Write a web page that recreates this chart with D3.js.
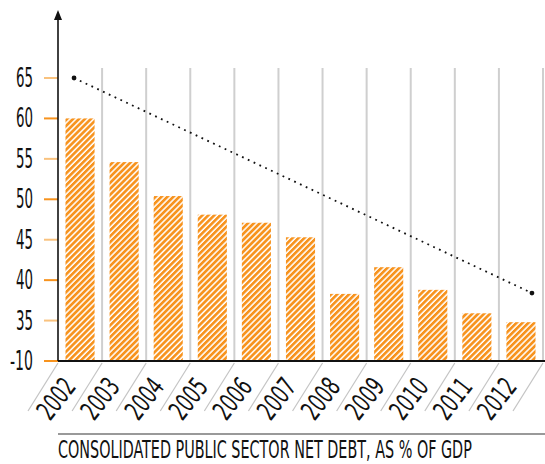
<!DOCTYPE html>
<html>
<head>
<meta charset="utf-8">
<script src="https://cdn.jsdelivr.net/npm/d3@7"></script>
<style>
  body { margin: 0; background: #fff; }
  svg text { font-family: "Liberation Sans Narrow", "DejaVu Sans Condensed", "Roboto", sans-serif; fill: #111; }
</style>
</head>
<body>
<svg width="545" height="464"></svg>
<script>
// data
var years = ["2002", "2003", "2004", "2005", "2006", "2007", "2008", "2009", "2010", "2011", "2012"];
var debt = [60, 54.6, 50.4, 48.1, 47.1, 45.3, 38.3, 41.6, 38.8, 35.9, 34.8];
var tickValues = [30, 35, 40, 45, 50, 55, 60, 65];
var tickLabels = ["-10", "35", "40", "45", "50", "55", "60", "65"];
var trendYears = ["2002", "2012"];
var trendValues = [65, 38.4];
var title = "CONSOLIDATED PUBLIC SECTOR NET DEBT, AS % OF GDP";

var svg = d3.select("svg");
var mLeft = 58, mRight = 543, mTop = 78, mBottom = 361;

// hatch pattern
var defs = svg.append("defs");
var pat = defs.append("pattern")
  .attr("id", "hatch")
  .attr("patternUnits", "userSpaceOnUse")
  .attr("width", 4.2)
  .attr("height", 4.2)
  .attr("patternTransform", "rotate(45)");
pat.append("rect").attr("width", 4.2).attr("height", 4.2).attr("fill", "#fff");
pat.append("rect").attr("width", 2.7).attr("height", 4.2).attr("fill", "#f7931e");

var x = d3.scaleBand()
  .domain(years)
  .range([mLeft, mRight])
  .paddingInner(0.34)
  .paddingOuter(0.17);

var y = d3.scaleLinear()
  .domain([30, 65])
  .range([mBottom, mTop]);

var step = x.step();
var cellRight = function(d) { return x(d) + x.bandwidth() + step * 0.17; };

// vertical grid lines + slanted lines below the baseline
svg.append("g").selectAll("line")
  .data(years)
  .enter().append("line")
  .attr("x1", cellRight).attr("x2", cellRight)
  .attr("y1", 68).attr("y2", mBottom)
  .attr("stroke", "#cfcfcf")
  .attr("stroke-width", 2);

var slants = [mLeft].concat(years.map(cellRight));
svg.append("g").selectAll("line")
  .data(slants)
  .enter().append("line")
  .attr("x1", function(d) { return d; })
  .attr("y1", mBottom + 2)
  .attr("x2", function(d) { return d - 30; })
  .attr("y2", mBottom + 50)
  .attr("stroke", "#c4c4c4")
  .attr("stroke-width", 1.2);

// bars
svg.append("g").selectAll("rect")
  .data(debt)
  .enter().append("rect")
  .attr("x", function(d, i) { return x(years[i]); })
  .attr("y", function(d) { return y(d); })
  .attr("width", x.bandwidth())
  .attr("height", function(d) { return mBottom - y(d); })
  .attr("fill", "url(#hatch)");

// y ticks
svg.append("g").selectAll("line")
  .data(tickValues)
  .enter().append("line")
  .attr("x1", 44).attr("x2", mLeft)
  .attr("y1", function(d) { return y(d); })
  .attr("y2", function(d) { return y(d); })
  .attr("stroke", function(d, i) { return i % 2 ? "#f9c27e" : "#f7931e"; })
  .attr("stroke-width", 2);

svg.append("g").selectAll("text")
  .data(tickValues)
  .enter().append("text")
  .attr("x", 33)
  .attr("y", function(d) { return y(d) + 9; })
  .attr("text-anchor", "end")
  .attr("font-size", 27)
  .attr("textLength", function(d, i) { return tickLabels[i].length == 3 ? 23 : 17; })
  .attr("lengthAdjust", "spacingAndGlyphs")
  .text(function(d, i) { return tickLabels[i]; });

// axes
svg.append("line")
  .attr("x1", mLeft).attr("x2", 545)
  .attr("y1", mBottom).attr("y2", mBottom)
  .attr("stroke", "#111").attr("stroke-width", 2);
svg.append("line")
  .attr("x1", mLeft).attr("x2", mLeft)
  .attr("y1", mBottom).attr("y2", 16)
  .attr("stroke", "#111").attr("stroke-width", 1.6);
svg.append("path")
  .attr("d", "M" + mLeft + ",10L" + (mLeft - 4) + ",20L" + (mLeft + 4) + ",20Z")
  .attr("fill", "#111");

// year labels
svg.append("g").selectAll("text")
  .data(years)
  .enter().append("text")
  .attr("text-anchor", "end")
  .attr("font-size", 27)
  .attr("textLength", 44)
  .attr("lengthAdjust", "spacingAndGlyphs")
  .attr("transform", function(d) {
    return "translate(" + (x(d) + x.bandwidth() / 2 - 3) + "," + (mBottom + 26) + ") rotate(-52)";
  })
  .text(function(d) { return d; });

// trend line
var trendX = d3.scaleLinear()
  .domain([+trendYears[0], +trendYears[1]])
  .range([x(trendYears[0]) + x.bandwidth() / 2 - 6, x(trendYears[1]) + x.bandwidth() / 2 + 11]);
var trend = trendYears.map(function(d, i) { return [trendX(+d), y(trendValues[i])]; });

svg.append("path")
  .attr("d", d3.line()(trend))
  .attr("fill", "none")
  .attr("stroke", "#111")
  .attr("stroke-width", 1.8)
  .attr("stroke-dasharray", "1.8 4.6");
svg.append("g").selectAll("circle")
  .data(trend)
  .enter().append("circle")
  .attr("cx", function(d) { return d[0]; })
  .attr("cy", function(d) { return d[1]; })
  .attr("r", 2.4)
  .attr("fill", "#111");

// title
svg.append("line")
  .attr("x1", mLeft).attr("x2", 545)
  .attr("y1", 434).attr("y2", 434)
  .attr("stroke", "#777").attr("stroke-width", 1.6);
var titleText = svg.append("text")
  .attr("font-size", 24)
  .text(title);
var sx = 414 / titleText.node().getComputedTextLength();
titleText.attr("transform", "translate(" + mLeft + ",458) scale(" + sx + ",1)");
</script>
</body>
</html>
